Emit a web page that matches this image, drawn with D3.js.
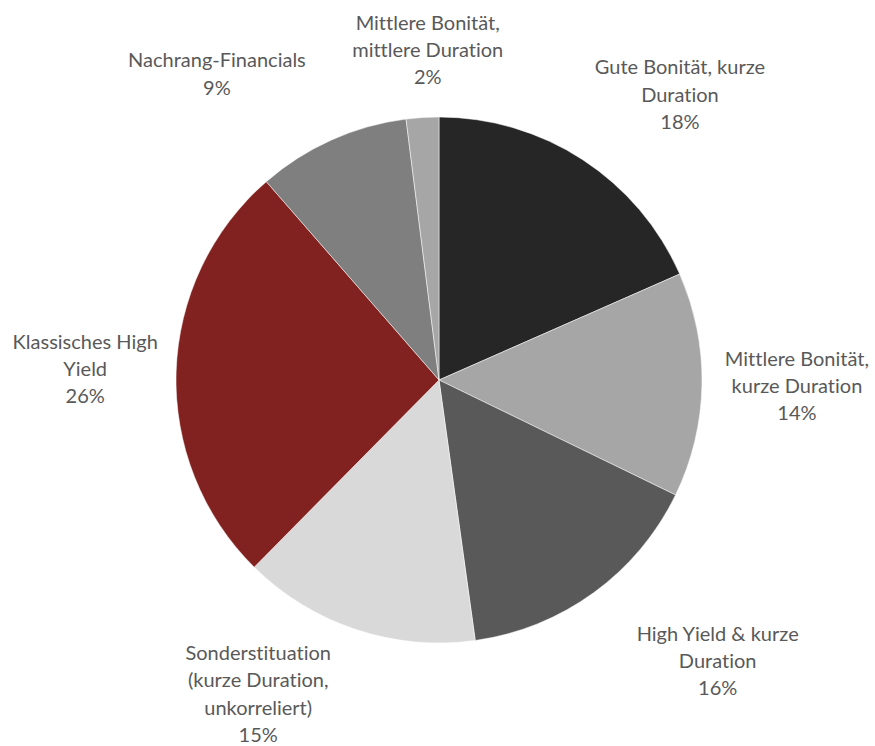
<!DOCTYPE html>
<html>
<head>
<meta charset="utf-8">
<script src="https://cdn.jsdelivr.net/npm/d3@7"></script>
<style>
  body { margin: 0; background: #fff; }
  svg { display: block; }
  text { font-variant-ligatures: none; font-feature-settings: "liga" 0; }
</style>
</head>
<body>
<svg id="chart"></svg>
<script>
const categories = [
  ["Gute Bonität, kurze", "Duration"],
  ["Mittlere Bonität,", "kurze Duration"],
  ["High Yield & kurze", "Duration"],
  ["Sonderstituation", "(kurze Duration,", "unkorreliert)"],
  ["Klassisches High", "Yield"],
  ["Nachrang-Financials"],
  ["Mittlere Bonität,", "mittlere Duration"]
];
const values = [18.4, 13.8, 15.6, 14.6, 26.2, 9.4, 2.0];
const percentLabels = ["18%", "14%", "16%", "15%", "26%", "9%", "2%"];
const colors = ["#262626", "#a6a6a6", "#595959", "#d9d9d9", "#822220", "#7f7f7f", "#a6a6a6"];

// label nudges from the label-arc centroid (Excel places these by hand)
const labelNudge = [[47, 12], [3, -1], [70, -6], [-69, -23], [1, 0], [-77, 18], [11, 24]];

drawPie();

function drawPie() {
  const width = 875;
  const height = 746;
  const cx = 439, cy = 380, radius = 263;

  const svg = d3.select("#chart")
    .attr("width", width)
    .attr("height", height);

  const g = svg.append("g").attr("transform", `translate(${cx},${cy})`);

  const pie = d3.pie().sort(null).value(d => d);
  const arcs = pie(values);

  const arc = d3.arc().innerRadius(0).outerRadius(radius);
  const labelArc = d3.arc().innerRadius(355).outerRadius(355);

  g.selectAll("path")
    .data(arcs)
    .enter()
    .append("path")
    .attr("d", arc)
    .attr("fill", (d, i) => colors[i])
    .attr("stroke", "#fff")
    .attr("stroke-width", 0.5);

  const lineH = 27.2;
  const labels = g.append("g")
    .selectAll("text")
    .data(arcs)
    .enter()
    .append("text")
    .attr("text-anchor", "middle")
    .attr("font-family", "Lato, 'Open Sans', sans-serif")
    .attr("font-size", "20px")
    .attr("fill", "#595959")
    .attr("transform", (d, i) => {
      const [x, y] = labelArc.centroid(d);
      return `translate(${x + labelNudge[i][0]},${y + labelNudge[i][1]})`;
    });

  labels.each(function (d, i) {
    const lines = categories[i].concat([percentLabels[i]]);
    const t = d3.select(this);
    const top = -(lines.length - 1) * lineH / 2;
    lines.forEach((s, j) => {
      t.append("tspan")
        .attr("x", 0)
        .attr("y", top + j * lineH)
        .attr("dy", "0.35em")
        .text(s);
    });
  });
}
</script>
</body>
</html>
